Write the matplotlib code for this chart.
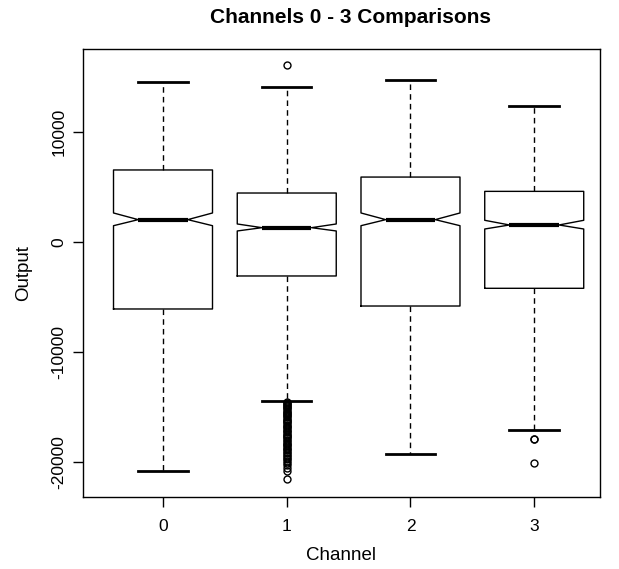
import matplotlib.pyplot as plt

## channel summary stats (whiskers, quartiles, median, notch) ##
channels = ["0", "1", "2", "3"]
whis_lo = [-20800, -14430, -19270, -17060]
q1 = [-6090, -3090, -5820, -4210]
notch_lo = [1480, 1000, 1480, 1180]
median = [2030, 1300, 2030, 1545]
notch_hi = [2636, 1636, 2636, 1970]
q3 = [6545, 4450, 5900, 4600]
whis_hi = [14545, 14090, 14727, 12330]

# outliers per channel
fliers_0 = []
fliers_1 = [16100, -14520, -14610, -14700, -14820, -14900, -15010, -15130, -15200,
            -15320, -15410, -15550, -15640, -15720, -15860, -15950, -16080, -16170,
            -16290, -16400, -16480, -16620, -16730, -16810, -16950, -17070, -17160,
            -17300, -17420, -17510, -17640, -17760, -17850, -17990, -18100, -18230,
            -18340, -18460, -18580, -18700, -18830, -18950, -19080, -19200, -19330,
            -19470, -19600, -19740, -19900, -20050, -20250, -20500, -20800, -21550]
fliers_2 = []
fliers_3 = [-17900, -17950, -20120]
fliers = [fliers_0, fliers_1, fliers_2, fliers_3]

plt.rcParams['font.family'] = ['Liberation Sans', 'DejaVu Sans']

stats = []
for i in range(len(channels)):
    stats.append({"label": channels[i], "whislo": whis_lo[i], "q1": q1[i],
                  "cilo": notch_lo[i], "med": median[i], "cihi": notch_hi[i],
                  "q3": q3[i], "whishi": whis_hi[i], "fliers": fliers[i]})

fig = plt.figure(figsize=(6.19, 5.69), dpi=100)
ax = fig.add_axes([0.134, 0.1265, 0.835, 0.7875])

ax.bxp(stats, positions=range(len(channels)), widths=0.8, shownotches=True,
       boxprops=dict(color="black", linewidth=1.0),
       whiskerprops=dict(color="black", linewidth=1.0, linestyle=(0, (4, 3))),
       capprops=dict(color="black", linewidth=2.0),
       medianprops=dict(color="black", linewidth=3.0, solid_capstyle="butt"),
       flierprops=dict(marker="o", markersize=5, markerfacecolor="none",
                       markeredgecolor="black", markeredgewidth=1.0))

ax.set_xlim(-0.647, 3.53)
ax.set_ylim(-23180, 17545)
ax.set_yticks([-20000, -10000, 0, 10000])
ax.set_yticklabels(["-20000", "-10000", "0", "10000"], rotation=90, va="center")
ax.tick_params(direction="out", length=7, width=1, labelsize=12.5)
ax.tick_params(axis="x", pad=9)
ax.tick_params(axis="y", pad=5)

for s in ax.spines.values():
    s.set_linewidth(1.0)

ax.set_xlabel("Channel", fontsize=13.5, labelpad=9)
ax.set_ylabel("Output", fontsize=13.5, labelpad=14)
ax.set_title("Channels 0 - 3 Comparisons", fontsize=15, fontweight="bold",
             pad=19, x=0.518)

fig.savefig("out.png", dpi=100)
